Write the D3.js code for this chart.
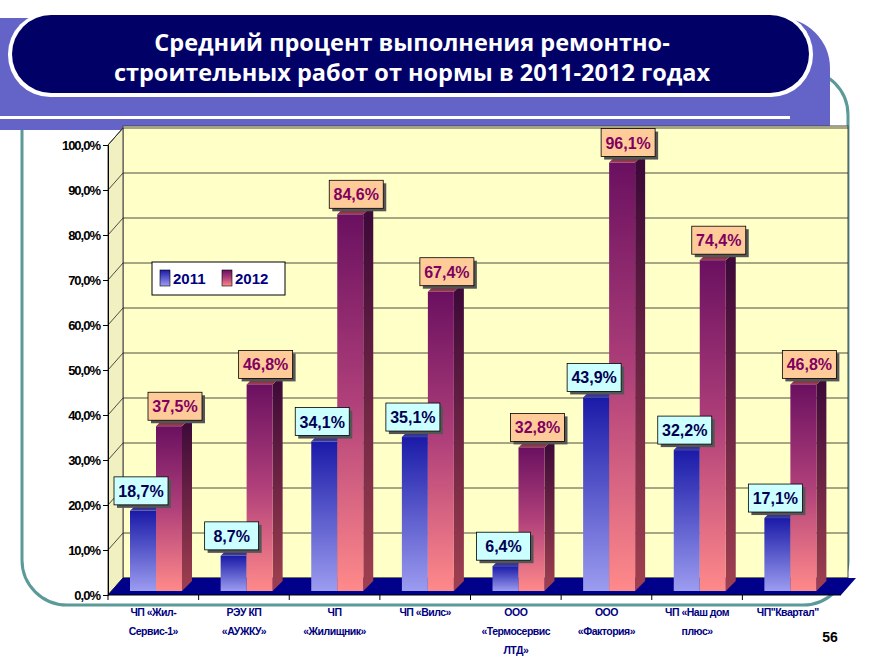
<!DOCTYPE html>
<html><head><meta charset="utf-8">
<script src="https://cdn.jsdelivr.net/npm/d3@7"></script>
<style>body{margin:0;background:#fff}svg{display:block}</style>
</head><body>
<script>
const categories = [["ЧП «Жил-","Сервис-1»"],["РЭУ КП","«АУЖКУ»"],["ЧП","«Жилищник»"],["ЧП «Вилс»"],["ООО","«Термосервис","ЛТД»"],["ООО","«Фактория»"],["ЧП «Наш дом","плюс»"],["ЧП\"Квартал\""]];
const values2011 = [18.7, 8.7, 34.1, 35.1, 6.4, 43.9, 32.2, 17.1];
const values2012 = [37.5, 46.8, 84.6, 67.4, 32.8, 96.1, 74.4, 46.8];
const yTicks = [0,10,20,30,40,50,60,70,80,90,100];
const seriesNames = ["2011","2012"];

const W=890,H=667;
const svg=d3.select("body").append("svg").attr("width",W).attr("height",H);
const defs=svg.append("defs");
function grad(id,stops){const g=defs.append("linearGradient").attr("id",id).attr("x1",0).attr("y1",0).attr("x2",0).attr("y2",1);
 stops.forEach(s=>g.append("stop").attr("offset",s[0]).attr("stop-color",s[1]));}
grad("g11",[[0,"#1a1aa8"],[1,"#9c9cf0"]]);
grad("g12",[[0,"#6a1060"],[0.5,"#b0407a"],[1,"#ff8a8a"]]);
grad("s11",[[0,"#0a0a60"],[1,"#4040a0"]]);
grad("s12",[[0,"#3a0838"],[1,"#a04050"]]);

svg.append("rect").attr("x",22).attr("y",70).attr("width",826).attr("height",535).attr("rx",45).attr("fill","none").attr("stroke","#5a9a98").attr("stroke-width",3);
svg.append("path").attr("d","M0,18 H780 A50,50 0 0 1 830,68 V130 H0 Z").attr("fill","#6464c8");
svg.append("rect").attr("x",0).attr("y",116).attr("width",790).attr("height",3).attr("fill","#fff");
svg.append("rect").attr("x",8).attr("y",12).attr("width",805).attr("height",85).attr("rx",42).attr("fill","#fff");
svg.append("rect").attr("x",12).attr("y",15).attr("width",797).attr("height",78).attr("rx",39).attr("fill","#000066");
const tt=svg.append("text").attr("text-anchor","middle").attr("fill","#fff").attr("font-family","Open Sans, DejaVu Sans, sans-serif").attr("font-weight","bold").attr("font-size",23.5);
tt.append("tspan").attr("x",412).attr("y",51).text("Средний процент выполнения  ремонтно-");
tt.append("tspan").attr("x",412).attr("y",81).text("строительных работ от нормы в 2011-2012 годах");

const x0=108,x1=833,dx=15,dy=17;
const y=d3.scaleLinear().domain([0,100]).range([595,145]);
const x=d3.scaleBand().domain(d3.range(categories.length)).range([x0,x1]);
svg.append("rect").attr("x",x0+dx).attr("y",y(100)-dy-2).attr("width",x1-x0).attr("height",y(0)-y(100)+2).attr("fill","#ffffc8").attr("stroke","#444");
svg.append("path").attr("d",`M${x0},${y(100)} L${x0+dx},${y(100)-dy} V${y(0)-dy} L${x0},${y(0)} Z`).attr("fill","#f0f0c0").attr("stroke","#444");
yTicks.forEach(t=>{svg.append("path").attr("d",`M${x0},${y(t)} L${x0+dx},${y(t)-dy} H${x1+dx}`).attr("fill","none").attr("stroke","#222").attr("stroke-width",0.8);});
svg.append("path").attr("d",`M${x0},${y(0)} L${x0+dx},${y(0)-dy} H${x1+dx+8} L${x1+8},${y(0)} Z`).attr("fill","#00008b");
const ax=svg.append("g").attr("transform",`translate(${x0},0)`).call(d3.axisLeft(y).tickValues(yTicks).tickSize(5).tickFormat(d=>d.toFixed(1).replace(".",",")+"%"));
ax.selectAll("text").attr("font-family","Liberation Sans, Arial, sans-serif").attr("font-weight","bold").attr("font-size",13).attr("fill","#000").attr("letter-spacing","-1");
svg.append("line").attr("x1",x0).attr("x2",x1+8).attr("y1",y(0)).attr("y2",y(0)).attr("stroke","#000");
x.domain().forEach(i=>svg.append("line").attr("x1",x(i)).attr("x2",x(i)).attr("y1",y(0)).attr("y2",y(0)+5).attr("stroke","#000"));

const bw=26, bd=10, bdy=10;
const labels=[];
function bar(i,v,off,f,s,lblFill,txtFill,lshift){
  const bx=x(i)+off, top=y(v), bot=y(0)-4;
  svg.append("path").attr("d",`M${bx+bw},${top} L${bx+bw+bd},${top-bdy} V${bot-bdy} L${bx+bw},${bot} Z`).attr("fill",`url(#${s})`);
  svg.append("path").attr("d",`M${bx},${top} L${bx+bd},${top-bdy} H${bx+bw+bd} L${bx+bw},${top} Z`).attr("fill",`url(#${s})`);
  svg.append("rect").attr("x",bx).attr("y",top).attr("width",bw).attr("height",bot-top).attr("fill",`url(#${f})`);
  labels.push({cx:bx+bw/2+lshift,top,v,lblFill,txtFill});
}
values2011.forEach((v,i)=>bar(i,v,22,"g11","s11","#ccffff","#000050",-2));
values2012.forEach((v,i)=>bar(i,v,48,"g12","s12","#ffcc99","#800060",6));
labels.forEach(l=>{
  const lw=54,lh=28;
  svg.append("rect").attr("x",l.cx-lw/2+3).attr("y",l.top-lh-6+3).attr("width",lw).attr("height",lh).attr("fill","#555");
  svg.append("rect").attr("x",l.cx-lw/2).attr("y",l.top-lh-6).attr("width",lw).attr("height",lh).attr("fill",l.lblFill).attr("stroke","#000").attr("stroke-width",0.8);
  svg.append("text").attr("x",l.cx).attr("y",l.top-lh/2-6+6).attr("text-anchor","middle").attr("font-family","Liberation Sans, Arial, sans-serif").attr("font-weight","bold").attr("font-size",16).attr("fill",l.txtFill).text(l.v.toFixed(1).replace(".",",")+"%");
});

categories.forEach((c,i)=>{const t=svg.append("text").attr("text-anchor","middle").attr("font-family","Liberation Sans, Arial, sans-serif").attr("font-weight","bold").attr("font-size",10.5).attr("fill","#000080").attr("letter-spacing","-0.5");
 c.forEach((l,j)=>t.append("tspan").attr("x",x(i)+x.bandwidth()/2).attr("y",616+j*19).text(l));});
svg.append("text").attr("x",830).attr("y",642).attr("text-anchor","middle").attr("font-family","Liberation Sans, Arial, sans-serif").attr("font-weight","bold").attr("font-size",14).text("56");

const lg=svg.append("g");
lg.append("rect").attr("x",152).attr("y",262).attr("width",133).attr("height",33).attr("fill","#fff").attr("stroke","#000");
seriesNames.forEach((n,i)=>{const lx=160+i*62;
 lg.append("rect").attr("x",lx).attr("y",270).attr("width",10).attr("height",16).attr("fill",i?"url(#g12)":"url(#g11)").attr("stroke","#000").attr("stroke-width",0.6);
 lg.append("text").attr("x",lx+13).attr("y",284).attr("font-family","Liberation Sans, Arial, sans-serif").attr("font-weight","bold").attr("font-size",15).attr("fill","#000080").text(n);});
</script>
</body></html>
